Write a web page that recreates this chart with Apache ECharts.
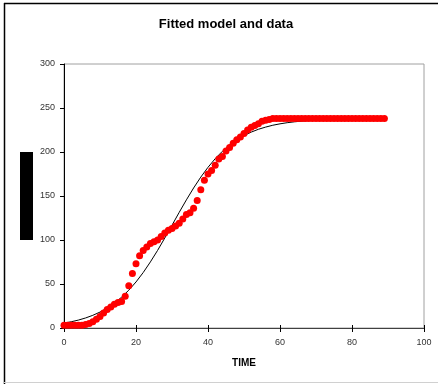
<!DOCTYPE html>
<html><head><meta charset="utf-8">
<script src="https://cdn.jsdelivr.net/npm/echarts@6/dist/echarts.min.js"></script>
<style>html,body{margin:0;padding:0;background:#fff}#c{width:438px;height:384px}</style>
</head><body><div id="c"></div>
<script>
// Observed data (TIME 0..89)
const dataTime = [];
for (let i = 0; i <= 89; i++) dataTime.push(i);
const dataValues = [3,3,3,3,3,3,4,5,7,10,
  13,17,21,24,27,29,30,36,48,62,
  73,82,88,92,96,98,100,104,108,111,
  113,116,119,124,129,131,136,145,157,168,
  175,179,185,192,195,201,205,210,214,217,
  221,225,228,230,232,235,236,237,238,238,
  238,238,238,238,238,238,238,238,238,238,
  238,238,238,238,238,238,238,238,238,238,
  238,238,238,238,238,238,238,238,238,238];
// Fitted model curve
const modelTime = [0,2,4,6,8,10,12,14,16,18,20,22,24,26,28,30,32,34,36,38,40,42,44,46,48,50,52,54,56,58,60,62,64,66,68,70,74,78,82,86,89];
const modelValues = [5.6,7.1,9,11.4,14.4,18.1,22.7,28.2,35,43,52.3,63,75.1,88.2,102.3,116.8,131.4,145.6,159.1,171.5,182.6,192.4,200.8,207.9,213.8,218.6,222.6,225.8,228.3,230.4,232,233.3,234.3,235.1,235.7,236.2,236.9,237.3,237.6,237.7,237.8];
const xTicks = {min:0, max:100, interval:20};
const yTicks = {min:0, max:300, interval:50};

const chart = echarts.init(document.getElementById('c'), null, {renderer:'canvas'});
const font = 'Arial, "Liberation Sans", sans-serif';
chart.setOption({
  animation:false,
  backgroundColor:'#fff',
  title:{text:'Fitted model and data', left:221, textAlign:'center', top:13,
    textStyle:{fontFamily:font, fontSize:13, fontWeight:'bold', color:'#000'}},
  grid:{left:64, right:14, top:64, bottom:56, show:true, borderColor:'#a0a0a0', borderWidth:1, backgroundColor:'#fff'},
  xAxis:[{type:'value', min:xTicks.min, max:xTicks.max, interval:xTicks.interval,
    name:'TIME', nameLocation:'middle', nameGap:30,
    nameTextStyle:{fontFamily:font, fontSize:10, fontWeight:'bold', color:'#000'},
    axisLine:{onZero:false, lineStyle:{color:'#404040', width:1}},
    axisTick:{show:true, length:4, lineStyle:{color:'#000'}},
    axisLabel:{fontFamily:font, fontSize:9, color:'#333', margin:10},
    splitLine:{show:false}},
   {type:'value', min:xTicks.min, max:xTicks.max, interval:xTicks.interval, position:'bottom',
    axisLine:{show:false}, axisTick:{show:true, inside:true, length:3, lineStyle:{color:'#000'}},
    axisLabel:{show:false}, splitLine:{show:false}}],
  yAxis:{type:'value', min:yTicks.min, max:yTicks.max, interval:yTicks.interval,
    axisLine:{show:true, onZero:false, lineStyle:{color:'#000', width:1}},
    axisTick:{show:true, length:4, lineStyle:{color:'#000'}},
    axisLabel:{fontFamily:font, fontSize:9, color:'#333', margin:9},
    splitLine:{show:false}},
  series:[
    {type:'scatter', data:dataTime.map((t,i)=>[t,dataValues[i]]), symbol:'circle', symbolSize:7,
     itemStyle:{color:'#ff0000', opacity:1}, z:2},
    {type:'line', data:modelTime.map((t,i)=>[t,modelValues[i]]), showSymbol:false, symbol:'none',
     lineStyle:{color:'#000', width:1}, z:1}
  ],
  graphic:[
    {type:'rect', shape:{x:20, y:152, width:13, height:88}, style:{fill:'#000'}},
    {type:'line', shape:{x1:4.5, y1:3, x2:4.5, y2:384}, style:{stroke:'#000', lineWidth:1.5}},
    {type:'line', shape:{x1:4, y1:3.5, x2:438, y2:3.5}, style:{stroke:'#000', lineWidth:1.5}},
    {type:'line', shape:{x1:4, y1:382.5, x2:438, y2:382.5}, style:{stroke:'#d0d0d0', lineWidth:1}}
  ]
});
</script></body></html>
